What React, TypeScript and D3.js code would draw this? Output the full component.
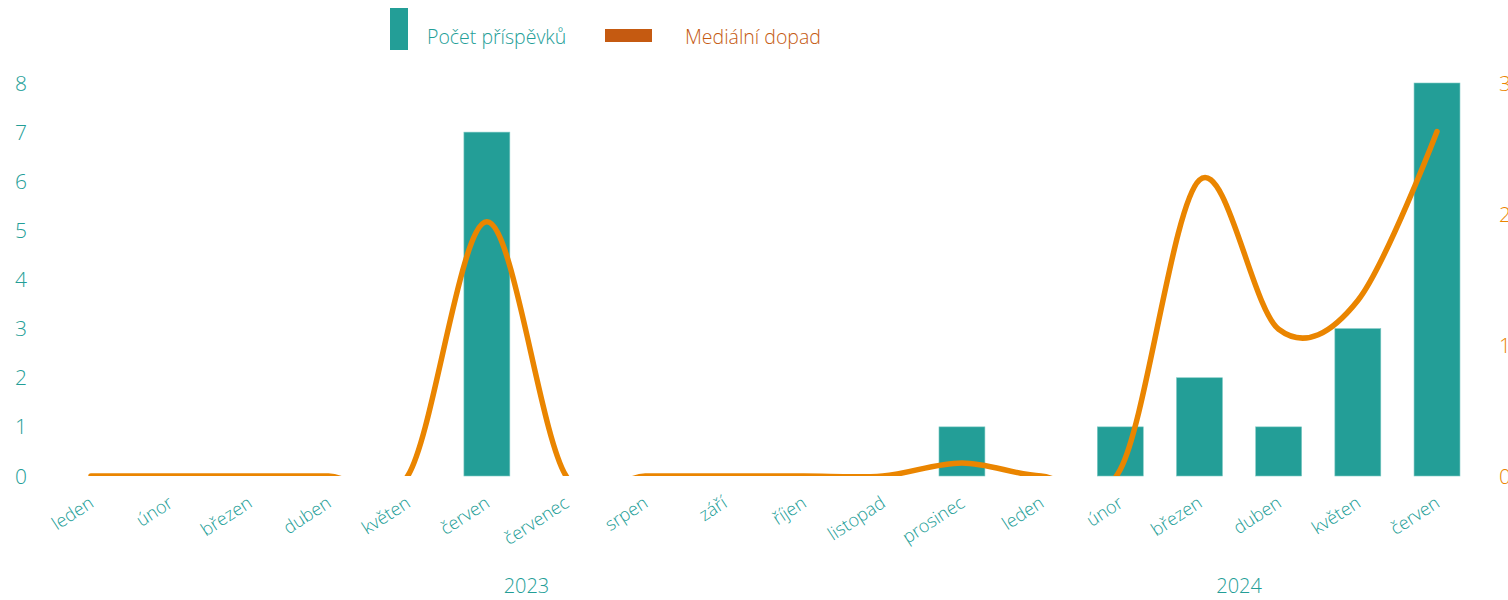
import React from "react";
import * as d3 from "d3";

const months = ["leden","únor","březen","duben","květen","červen","červenec","srpen","září","říjen","listopad","prosinec","leden","únor","březen","duben","květen","červen"];
const years = ["2023","2024"];
const yearOfMonth = [0,0,0,0,0,0,0,0,0,0,0,0,1,1,1,1,1,1];
const postCounts = [0,0,0,0,0,7,0,0,0,0,0,1,0,1,2,1,3,8];
const mediaImpact = [0,0,0,0,0,1.94,0,0,0,0,0,0.1,0,0.05,2.26,1.12,1.34,2.63];
const leftTicks = [0,1,2,3,4,5,6,7,8];
const rightTicks = [0,1,2,3];

const W = 1508, H = 600;
const M = { left: 51.4, right: 1476.6, top: 83, bottom: 476 };
const TEAL = "#239e97";
const ORANGE = "#ea8500";
const LEG_ORANGE = "#c55a11";
const FONT = "'Open Sans', sans-serif";

export default function App() {
  const x = d3.scaleBand<number>().domain(d3.range(months.length)).range([M.left, M.right]).paddingInner(0.42).paddingOuter(0.21);
  const yL = d3.scaleLinear().domain([0, 8]).range([M.bottom, M.top]);
  const yR = d3.scaleLinear().domain([0, 3]).range([M.bottom, M.top]);
  const cx = (i: number) => (x(i) as number) + x.bandwidth() / 2;
  const line = d3.line<number>().x((_, i) => cx(i)).y((d) => yR(d)).curve(d3.curveCatmullRom.alpha(0));
  const path = line(mediaImpact) || "";

  const yearGroups = years.map((y, yi) => {
    const idx = d3.range(months.length).filter((i) => yearOfMonth[i] === yi);
    const mid = (cx(idx[0]) + cx(idx[idx.length - 1])) / 2;
    return { label: y, mid };
  });

  return (
    <svg width={W} height={H} style={{ position: "absolute", left: 0, top: 0, overflow: "hidden" }} fontFamily={FONT}>
      <defs>
        <clipPath id="plot">
          <rect x={M.left - 20} y={M.top - 10} width={M.right - M.left + 40} height={M.bottom - M.top + 10} />
        </clipPath>
      </defs>
      {/* legend */}
      <rect x={390} y={8} width={18} height={42} fill={TEAL} />
      <text x={427} y={44} fontSize={19.5} fill={TEAL} fontWeight={300}>Počet příspěvků</text>
      <rect x={605} y={29} width={47} height={13} fill={LEG_ORANGE} />
      <text x={685} y={44} fontSize={19.5} fill={LEG_ORANGE} fontWeight={300}>Mediální dopad</text>

      {/* left axis */}
      {leftTicks.map((t) => (
        <text key={"l" + t} x={21} y={yL(t)} dy="0.36em" textAnchor="middle" fontSize={21} fill={TEAL} fontWeight={300}>{t}</text>
      ))}
      {/* right axis */}
      {rightTicks.map((t) => (
        <text key={"r" + t} x={1499} y={yR(t)} dy="0.36em" textAnchor="start" fontSize={21} fill={ORANGE} fontWeight={300}>{t}</text>
      ))}

      {/* bars */}
      {postCounts.map((v, i) => v > 0 ? (
        <rect key={"b" + i} x={x(i)} y={yL(v)} width={x.bandwidth()} height={yL(0) - yL(v)} fill={TEAL} stroke="#7cc9c3" strokeWidth={0.6} />
      ) : null)}

      {/* line */}
      <g clipPath="url(#plot)">
        <path d={path} fill="none" stroke={ORANGE} strokeWidth={5.5} strokeLinecap="round" strokeLinejoin="round" />
      </g>

      {/* x labels */}
      {months.map((m, i) => (
        <text key={"m" + i} transform={`translate(${cx(i) + 4},${506}) rotate(-33)`} textAnchor="end" fontSize={18} fill={TEAL} fontWeight={300}>{m}</text>
      ))}
      {yearGroups.map((g) => (
        <text key={g.label} x={g.mid} y={593} textAnchor="middle" fontSize={20} fill={TEAL} fontWeight={300}>{g.label}</text>
      ))}
    </svg>
  );
}
